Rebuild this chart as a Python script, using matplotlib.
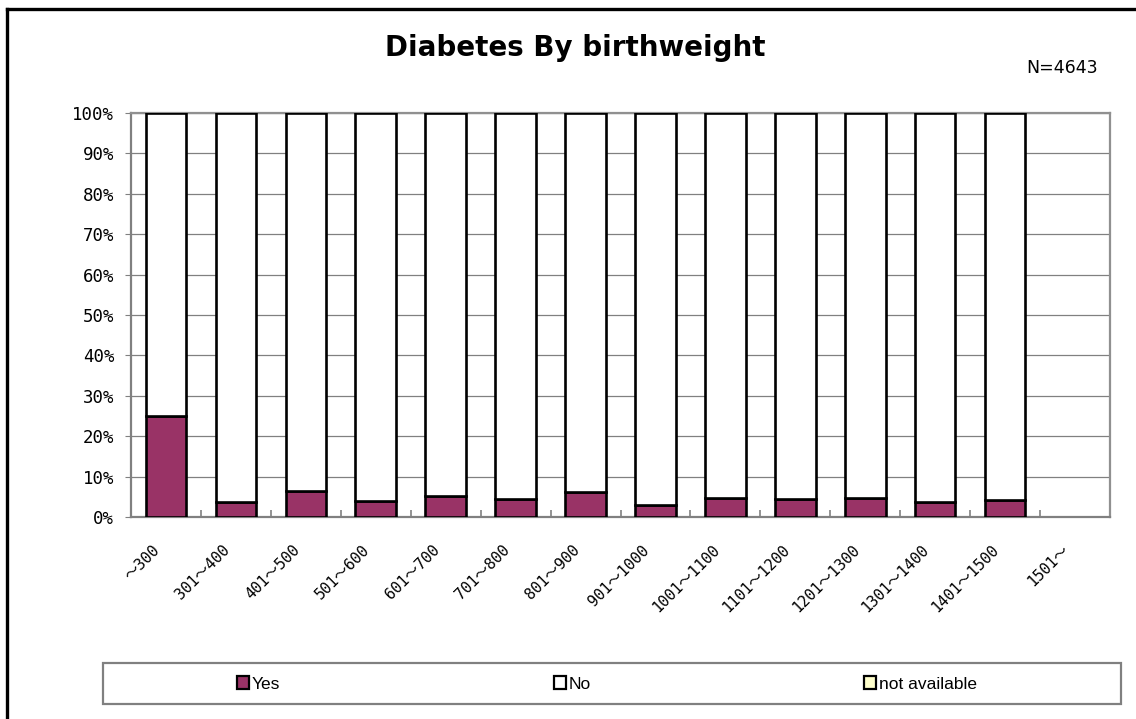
import matplotlib
matplotlib.use("Agg")
import matplotlib.pyplot as plt
from matplotlib.patches import Rectangle, Patch
from matplotlib.lines import Line2D

categories = ['～300', '301～400', '401～500', '501～600', '601～700', '701～800',
              '801～900', '901～1000', '1001～1100', '1101～1200', '1201～1300',
              '1301～1400', '1401～1500', '1501～']
yes = [25.0, 3.6, 6.4, 4.0, 5.3, 4.4, 6.2, 2.9, 4.7, 4.4, 4.6, 3.7, 4.2, 0.0]
no = [75.0, 96.4, 93.6, 96.0, 94.7, 95.6, 93.8, 97.1, 95.3, 95.6, 95.4, 96.3, 95.8, 0.0]
not_available = [0.0] * 14
series_names = ['Yes', 'No', 'not available']
series_colors = ['#993366', '#FFFFFF', '#FFFFCC']
y_ticks = [0, 10, 20, 30, 40, 50, 60, 70, 80, 90, 100]

W, H = 1136, 719
fig = plt.figure(figsize=(W / 100, H / 100), dpi=100)
fig.patch.set_facecolor('white')

mono = ['DejaVu Sans Mono', 'Noto Sans CJK JP']

# plot area in pixel coordinates
px_l, px_r, px_t, px_b = 131, 1110, 113, 517
ax = fig.add_axes([px_l / W, 1 - px_b / H, (px_r - px_l) / W, (px_b - px_t) / H])

bottom = [0.0] * len(categories)
for vals, col in zip([yes, no, not_available], series_colors):
    # skip empty segments so nothing is drawn for them
    xs = [i for i, v in enumerate(vals) if v > 0]
    ax.bar(xs, [vals[i] for i in xs], width=0.58, bottom=[bottom[i] for i in xs],
           color=col, edgecolor='black', linewidth=1.9, zorder=3)
    bottom = [b + v for b, v in zip(bottom, vals)]

ax.set_xlim(-0.5, len(categories) - 0.5)
ax.set_ylim(0, 100)
ax.set_yticks(y_ticks)
ax.set_yticklabels([f'{t}%' for t in y_ticks], family=mono, fontsize=12.5)
ax.yaxis.grid(True, color='#808080', linewidth=0.9, zorder=0)
ax.tick_params(axis='y', direction='out', length=4, color='#808080', pad=8)

# x ticks at category boundaries, labels at centres
ax.set_xticks([i + 0.5 for i in range(len(categories) - 1)])
ax.set_xticklabels([])
ax.tick_params(axis='x', direction='in', length=5, color='#808080', width=1.2)
for i, lab in enumerate(categories):
    ax.annotate(lab, xy=(i, 0), xycoords=('data', 'axes fraction'),
                xytext=(-6, -22), textcoords='offset points', rotation=45,
                ha='right', va='center', rotation_mode='anchor',
                family=mono, fontsize=11)

for side in ['left', 'bottom']:
    ax.spines[side].set_color('#808080')
    ax.spines[side].set_linewidth(1.6)
for side in ['right', 'top']:
    ax.spines[side].set_color('#909090')
    ax.spines[side].set_linewidth(1.6)

fig.text(575 / W, 1 - 48 / H, 'Diabetes By birthweight', ha='center', va='center',
         fontsize=20, fontweight='bold', family='DejaVu Sans')
fig.text(1062 / W, 1 - 68 / H, 'N=4643', ha='center', va='center',
         fontsize=12.5, family='DejaVu Sans')

# legend box
fig.patches.append(Rectangle((103 / W, 1 - 704 / H), (1121 - 103) / W, 41 / H,
                             transform=fig.transFigure, facecolor='white',
                             edgecolor='#808080', linewidth=1.6))
handles = [Patch(facecolor=c, edgecolor='black', linewidth=1.6) for c in series_colors]
fig.legend(handles, series_names, loc='center left', ncol=3,
           bbox_to_anchor=(237 / W, 1 - 684 / H), frameon=False,
           prop={'family': 'Liberation Sans', 'size': 12.5},
           handlelength=0.7, handleheight=0.7, handletextpad=0.15,
           columnspacing=15.75, borderpad=0, borderaxespad=0)

# outer chart border (left and top visible)
fig.add_artist(Line2D([7 / W, 7 / W], [0, 1 - 9 / H], transform=fig.transFigure,
                      color='black', linewidth=2.4))
fig.add_artist(Line2D([7 / W, 1], [1 - 9 / H, 1 - 9 / H], transform=fig.transFigure,
                      color='black', linewidth=2.4))

fig.savefig('out.png', dpi=100)
